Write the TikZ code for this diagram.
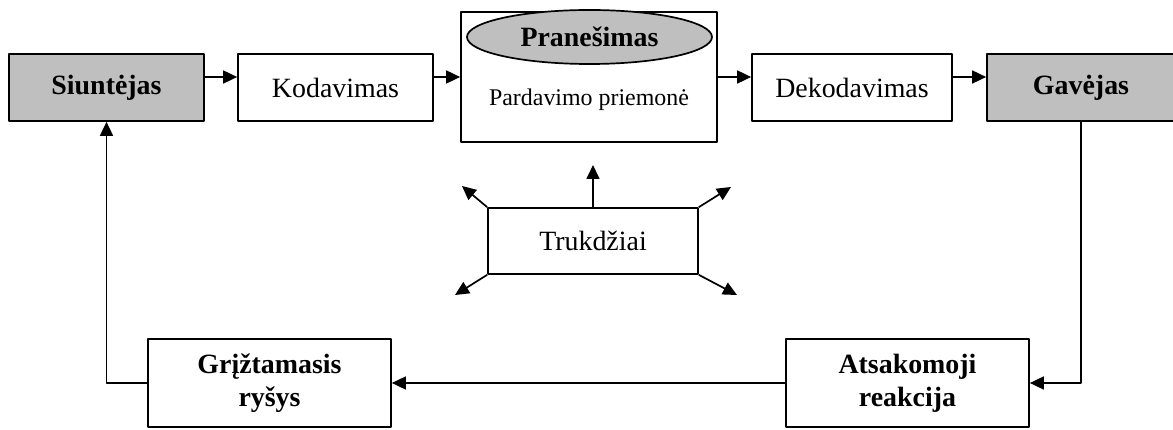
\documentclass[tikz,border=0pt]{standalone}
\usepackage{fontspec}
\setmainfont{Liberation Serif}
\usetikzlibrary{arrows.meta,shapes.geometric}
\begin{document}
\begin{tikzpicture}[>={Triangle[length=14bp,width=13bp]},line join=bevel,line width=1.7bp,
  box/.style={draw=black,rectangle,inner sep=0bp,align=center,font=\fontsize{28}{32}\selectfont},
  greybox/.style={box,fill=gray!50!white,font=\fontsize{28}{32}\selectfont\bfseries},
  boldbox/.style={box,font=\fontsize{28}{33}\selectfont\bfseries},
  ]
%%
\useasboundingbox (0bp,0bp) rectangle (1173bp,430bp);
  \node (sender) at (106.5bp,342.5bp) [greybox,minimum width=195bp,minimum height=67bp] {Siuntėjas};
  \node (coding) at (335.5bp,342.5bp) [box,minimum width=195bp,minimum height=67bp] {Kodavimas};
  \node (msg_box) at (589bp,353bp) [box,minimum width=256bp,minimum height=130bp] {};
  \node (msg_ell) at (589.5bp,393bp) [draw=black,ellipse,fill=gray!50!white,inner sep=0bp,minimum width=245bp,minimum height=54bp,font=\fontsize{28}{32}\selectfont\bfseries] {\raisebox{-6bp}{Pranešimas}};
  \node (msg_txt) at (589bp,330bp) [font=\fontsize{24}{28}\selectfont] {Pardavimo priemonė};
  \node (decoding) at (852bp,342.5bp) [box,minimum width=200bp,minimum height=67bp] {Dekodavimas};
  \node (receiver) at (1081bp,342.5bp) [greybox,minimum width=188bp,minimum height=67bp] {Gavėjas};
  \node (reaction) at (907.5bp,47bp) [boldbox,minimum width=243bp,minimum height=88bp] {Atsakomoji\\reakcija};
  \node (feedback) at (269.5bp,47bp) [boldbox,minimum width=243bp,minimum height=88bp] {Grįžtamasis\\ryšys};
  \node (noise) at (593bp,189bp) [box,minimum width=210bp,minimum height=66bp] {Trukdžiai};
  \coordinate (noise_up) at (593bp,265bp);
  \coordinate (noise_nw) at (462bp,244bp);
  \coordinate (noise_ne) at (731bp,243bp);
  \coordinate (noise_sw) at (455bp,135bp);
  \coordinate (noise_se) at (737bp,135bp);
  \draw [->,solid] ([yshift=10.5bp]sender.east) -- ([yshift=10.5bp]coding.west);
  \draw [->,solid] ([yshift=10.5bp]coding.east) -- (msg_box.west);
  \draw [->,solid] (msg_box.east) -- ([yshift=10.5bp]decoding.west);
  \draw [->,solid] ([yshift=10.5bp]decoding.east) -- ([yshift=10.5bp]receiver.west);
  \draw [->,solid] (receiver.south) |- (reaction.east);
  \draw [->,solid] (reaction.west) -- (feedback.east);
  \draw [->,solid] (feedback.west) -| (sender.south);
  \draw [->,solid] (noise.north) -- (noise_up);
  \draw [->,solid] (noise.north west) -- (noise_nw);
  \draw [->,solid] (noise.north east) -- (noise_ne);
  \draw [->,solid] (noise.south west) -- (noise_sw);
  \draw [->,solid] (noise.south east) -- (noise_se);
%
\end{tikzpicture}
\end{document}
